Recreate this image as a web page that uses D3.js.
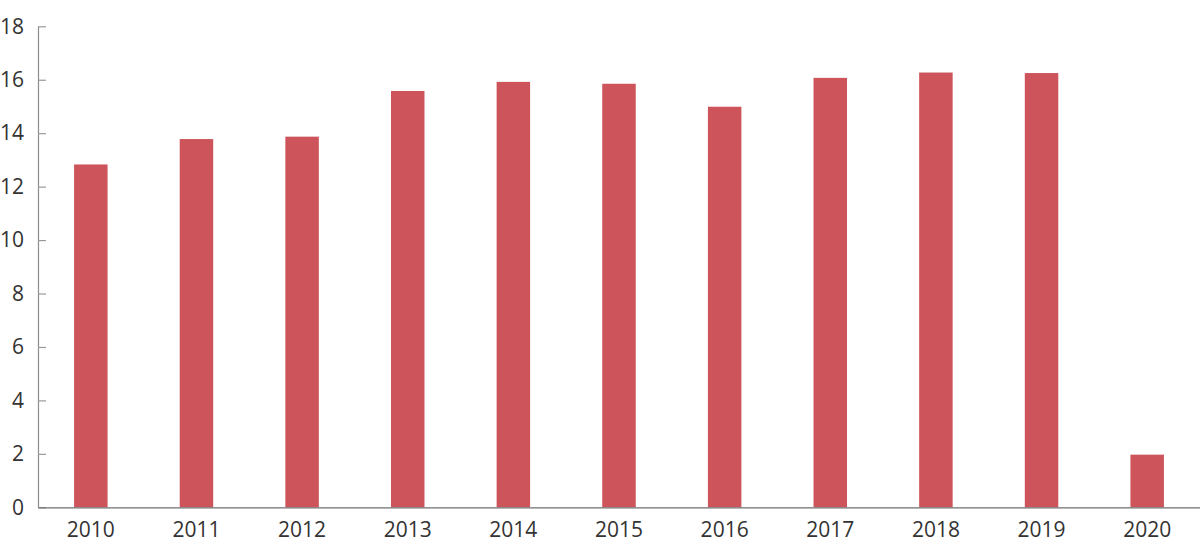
<!DOCTYPE html>
<html><head><meta charset="utf-8">
<script src="https://cdn.jsdelivr.net/npm/d3@7"></script>
<style>body{margin:0;background:#fff}svg{display:block}text{font-family:"Open Sans",sans-serif}</style>
</head><body><svg id="c" width="1200" height="559"></svg>
<script>
const years = ["2010","2011","2012","2013","2014","2015","2016","2017","2018","2019","2020"];
const values = [12.83, 13.78, 13.87, 15.58, 15.92, 15.85, 14.99, 16.07, 16.27, 16.25, 1.97];
const yTicks = [0, 2, 4, 6, 8, 10, 12, 14, 16, 18];

const svg = d3.select("#c");
const mLeft = 38, mRight = 1200, mTop = 26.3, mBottom = 507.3;
const pi = 0.683;
const x = d3.scaleBand().domain(years).range([mLeft, mRight]).paddingInner(pi).paddingOuter(pi/2);
const y = d3.scaleLinear().domain([0, 18]).range([mBottom, mTop]);

svg.append("g").selectAll("rect").data(values).join("rect")
  .attr("x", (d,i) => x(years[i]))
  .attr("width", x.bandwidth())
  .attr("y", d => y(d))
  .attr("height", d => y(0) - y(d))
  .attr("fill", "#cc545a");

// y axis
const ya = svg.append("g").attr("transform", `translate(${mLeft},0)`)
  .call(d3.axisLeft(y).tickValues(yTicks).tickSize(-8).tickPadding(14).tickSizeOuter(0));
ya.select(".domain").attr("stroke", "#8c8c8c").attr("stroke-width", 1.2);
ya.selectAll(".tick line").attr("stroke", "#9a9a9a").attr("stroke-width", 1.2);
ya.selectAll(".tick text").attr("font-size", 21).attr("fill", "#333").attr("font-family", "'Open Sans', sans-serif");

// x axis
const xa = svg.append("g").attr("transform", `translate(0,${mBottom})`)
  .call(d3.axisBottom(x).tickSize(0).tickPadding(15).tickSizeOuter(0));
xa.select(".domain").attr("stroke", "#6f6f6f").attr("stroke-width", 1.2);
xa.selectAll(".tick text").attr("font-size", 21).attr("fill", "#333").attr("font-family", "'Open Sans', sans-serif");
</script></body></html>
